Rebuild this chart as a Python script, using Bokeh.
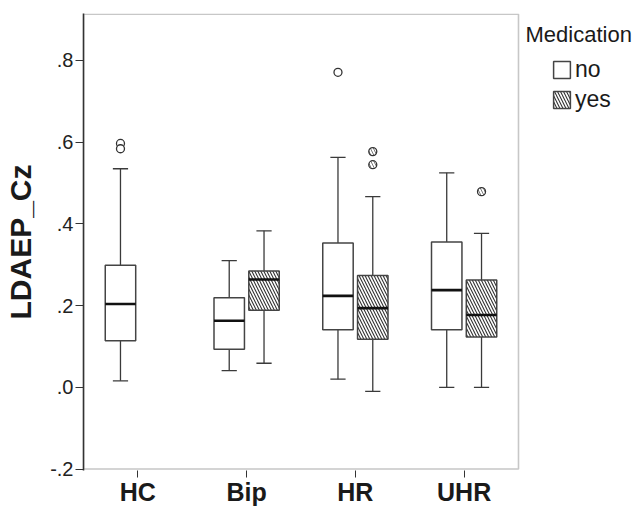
from bokeh.plotting import figure
from bokeh.models import (ColumnDataSource, Range1d, FixedTicker, BoxAnnotation,
                          CustomJSTickFormatter, Legend, LegendItem, Label)
from bokeh.transform import dodge
from bokeh.embed import file_html
from bokeh.resources import INLINE

# ---- data ----
groups = ["HC", "Bip", "HR", "UHR"]

no_groups = ["HC", "Bip", "HR", "UHR"]
no_lo = [0.016, 0.041, 0.020, 0.000]
no_q1 = [0.114, 0.093, 0.141, 0.141]
no_med = [0.204, 0.163, 0.224, 0.238]
no_q3 = [0.299, 0.219, 0.353, 0.356]
no_hi = [0.535, 0.310, 0.563, 0.525]

yes_groups = ["Bip", "HR", "UHR"]
yes_lo = [0.059, -0.010, 0.000]
yes_q1 = [0.189, 0.118, 0.123]
yes_med = [0.264, 0.194, 0.177]
yes_q3 = [0.285, 0.274, 0.263]
yes_hi = [0.383, 0.467, 0.377]

no_out_groups = ["HC", "HC", "HR"]
no_out_vals = [0.597, 0.584, 0.771]
yes_out_groups = ["HR", "HR", "UHR"]
yes_out_vals = [0.577, 0.545, 0.479]

y_ticks = [-0.2, 0.0, 0.2, 0.4, 0.6, 0.8]

FONT = "Liberation Sans"
LINE = "#3a3a3a"

N = len(groups)
FRAME_W = 642 - 83          # plotting area reaches the right edge (legend lives inside it)
GROUP_W = 435.0             # pixel width of the boxed chart area
X_END = N * FRAME_W / GROUP_W

p = figure(width=642, height=509, output_backend="svg", toolbar_location=None,
           x_range=Range1d(0, X_END), y_range=Range1d(-0.2035, 0.915),
           min_border_left=83, min_border_right=0, min_border_top=13,
           min_border_bottom=39)
p.xgrid.visible = False
p.ygrid.visible = False
p.outline_line_color = None
p.background_fill_color = "white"
p.border_fill_color = "white"

# visible chart box
p.add_layout(BoxAnnotation(left=0, right=N, bottom=-0.2, top=0.913, fill_alpha=0,
                           line_color="#444444", line_width=1.6, level="underlay"))

OFF = 0.16
BW = 0.28
CAP = 0.07


def pos(gs):
    return [groups.index(g) + 0.5 for g in gs]


def draw(groups_, lo, q1, med, q3, hi, off, hatch):
    src = ColumnDataSource(dict(x=pos(groups_), lo=lo, q1=q1, med=med, q3=q3, hi=hi))
    xc = dodge("x", off)
    p.segment(x0=xc, x1=xc, y0="q3", y1="hi", source=src, line_color=LINE, line_width=1.3)
    p.segment(x0=xc, x1=xc, y0="lo", y1="q1", source=src, line_color=LINE, line_width=1.3)
    p.segment(x0=dodge("x", off - CAP), x1=dodge("x", off + CAP),
              y0="hi", y1="hi", source=src, line_color=LINE, line_width=1.3)
    p.segment(x0=dodge("x", off - CAP), x1=dodge("x", off + CAP),
              y0="lo", y1="lo", source=src, line_color=LINE, line_width=1.3)
    kw = dict(hatch_pattern="\\", hatch_scale=6, hatch_weight=1.1, hatch_color="#333333") if hatch else {}
    r = p.vbar(x=xc, width=BW, bottom="q1", top="q3", source=src, fill_color="white",
               line_color="#444444", line_width=1.5, **kw)
    p.segment(x0=dodge("x", off - BW / 2), x1=dodge("x", off + BW / 2),
              y0="med", y1="med", source=src, line_color="#111111", line_width=2.6)
    return r


r_no = draw(no_groups, no_lo, no_q1, no_med, no_q3, no_hi, -OFF, False)
r_yes = draw(yes_groups, yes_lo, yes_q1, yes_med, yes_q3, yes_hi, OFF, True)

src_on = ColumnDataSource(dict(x=pos(no_out_groups), v=no_out_vals))
p.scatter(x=dodge("x", -OFF), y="v", source=src_on, marker="circle", size=8,
          fill_color="white", line_color="#333333", line_width=1.3)
src_oy = ColumnDataSource(dict(x=pos(yes_out_groups), v=yes_out_vals))
p.scatter(x=dodge("x", OFF), y="v", source=src_oy, marker="circle", size=8,
          fill_color="white", line_color="#333333", line_width=1.3,
          hatch_pattern="\\", hatch_scale=6, hatch_weight=0.8, hatch_color="#555555")

# y axis
p.yaxis.ticker = FixedTicker(ticks=y_ticks)
p.yaxis.formatter = CustomJSTickFormatter(
    code="return tick.toFixed(1).replace(/^(-?)0\\./, '$1.');")
p.yaxis.axis_label = "LDAEP_Cz"
p.yaxis.axis_label_text_font = FONT
p.yaxis.axis_label_text_font_size = "30px"
p.yaxis.axis_label_text_font_style = "bold"
p.yaxis.axis_label_text_color = "#1a1a1a"
p.yaxis.axis_label_standoff = 10
p.yaxis.major_label_text_font = FONT
p.yaxis.major_label_text_font_size = "20px"
p.yaxis.major_label_text_color = "#222222"
p.yaxis.major_label_standoff = 2
p.yaxis.major_tick_out = 8
p.yaxis.major_tick_in = 0
p.yaxis.minor_tick_line_color = None
p.yaxis.axis_line_color = "#333333"
p.yaxis.axis_line_width = 1.6
p.yaxis.major_tick_line_color = "#333333"

# x axis (category labels at group centres)
p.xaxis.ticker = FixedTicker(ticks=[i + 0.5 for i in range(N)])
p.xaxis.formatter = CustomJSTickFormatter(args=dict(labels=groups),
                                          code="return labels[Math.floor(tick)];")
p.xaxis.major_label_text_font = FONT
p.xaxis.major_label_text_font_size = "25px"
p.xaxis.major_label_text_font_style = "bold"
p.xaxis.major_label_text_color = "#1a1a1a"
p.xaxis.major_label_standoff = 0
p.xaxis.major_tick_out = 7
p.xaxis.major_tick_in = 0
p.xaxis.minor_tick_line_color = None
p.xaxis.axis_line_color = None
p.xaxis.major_tick_line_color = "#333333"

# legend (inside the extended plotting area, right of the chart box)
legend = Legend(items=[LegendItem(label="no", renderers=[r_no]),
                       LegendItem(label="yes", renderers=[r_yes])],
                location=(468, 357), orientation="vertical",
                glyph_width=21, glyph_height=21, label_height=21,
                label_standoff=3, spacing=3, padding=0, margin=0,
                border_line_color=None, background_fill_alpha=0,
                label_text_font=FONT, label_text_font_size="23px",
                label_text_color="#1a1a1a")
p.add_layout(legend, "center")

title = Label(x=442, y=449, x_units="screen", y_units="screen", text="Medication",
              text_font=FONT, text_font_size="22px", text_color="#1a1a1a",
              text_baseline="top", text_align="left")
p.add_layout(title)

open("out.html", "w").write(file_html(p, INLINE))
